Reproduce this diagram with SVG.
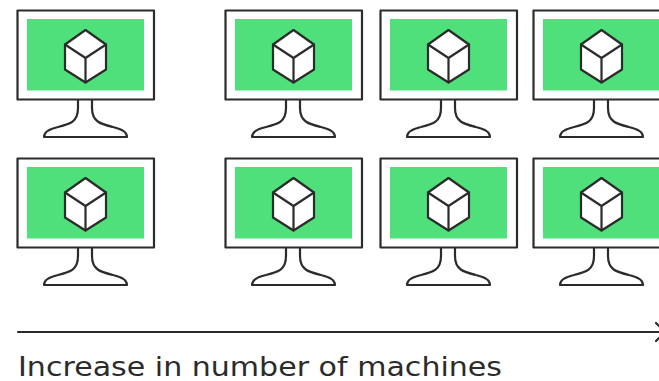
<svg xmlns="http://www.w3.org/2000/svg" width="659" height="381" viewBox="0 0 659 381">
<style>
.ln{fill:none;stroke:#2b2b2b;stroke-width:2.200;stroke-linejoin:round;stroke-linecap:round}
.w{fill:#fff}
.scr{fill:#4fe07c}
.lab{font-family:"DejaVu Sans",sans-serif;font-size:26px;fill:#2b2b2b}
</style>
<defs>
<g id="monitor">
<rect class="ln w" x="17.5" y="10.5" width="136.5" height="89"/>
<rect class="scr" x="27" y="19" width="117" height="71.5"/>
<path class="ln w" d="M85.5 30L106 44.500V69.500L85.500 82.500L65 69.500V44.500Z"/>
<path class="ln" d="M65 44.500L85.500 58L106 44.500M85.500 58V82.500"/>
<path class="ln" d="M78 100V108C78 122 70 124 58 127C49 129 44 132 44 137H127C127 132 122 129 113 127C101 124 92 122 92 108V100"/>
</g>
</defs>
<rect width="659" height="381" fill="#fff"/>
<g id="m1"><use href="#monitor"/></g>
<g id="m2"><use href="#monitor" x="208"/></g>
<g id="m3"><use href="#monitor" x="363"/></g>
<g id="m4"><use href="#monitor" x="516"/></g>
<g id="m5"><use href="#monitor" y="148"/></g>
<g id="m6"><use href="#monitor" x="208" y="148"/></g>
<g id="m7"><use href="#monitor" x="363" y="148"/></g>
<g id="m8"><use href="#monitor" x="516" y="148"/></g>
<g id="connectors">
<path class="ln" d="M18 332H659M656 323L665 332L656 341"/>
</g>
<text class="lab" x="18" y="375.500" textLength="484" lengthAdjust="spacingAndGlyphs">Increase in number of machines</text>
</svg>
